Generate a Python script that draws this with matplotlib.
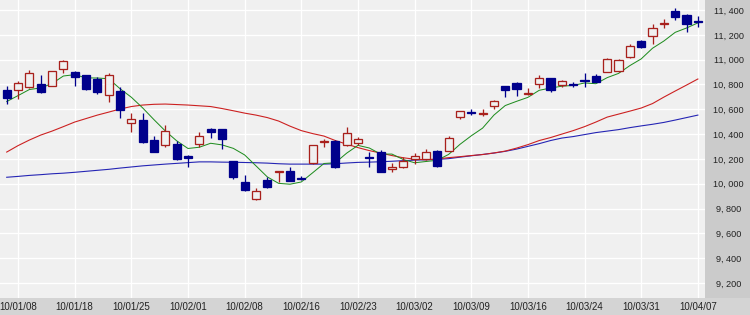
import matplotlib
matplotlib.use("Agg")
import matplotlib.pyplot as plt
from matplotlib.patches import Rectangle

dates = ['10/01/07','10/01/08','10/01/12','10/01/13','10/01/14','10/01/15','10/01/18','10/01/19',
         '10/01/20','10/01/21','10/01/22','10/01/25','10/01/26','10/01/27','10/01/28','10/01/29',
         '10/02/01','10/02/02','10/02/03','10/02/04','10/02/05','10/02/08','10/02/09','10/02/10',
         '10/02/12','10/02/15','10/02/16','10/02/17','10/02/18','10/02/19','10/02/22','10/02/23',
         '10/02/24','10/02/25','10/02/26','10/03/01','10/03/02','10/03/03','10/03/04','10/03/05',
         '10/03/08','10/03/09','10/03/10','10/03/11','10/03/12','10/03/15','10/03/16','10/03/17',
         '10/03/18','10/03/19','10/03/23','10/03/24','10/03/25','10/03/26','10/03/29','10/03/30',
         '10/03/31','10/04/01','10/04/02','10/04/05','10/04/06','10/04/07']

opens = [10755,10752,10777,10801,10787,10922,10902,10876,10844,10714,10747,10486,10513,10352,10316,10319,
         10223,10317,10440,10440,10182,10015,9876,10029,10092,10102,10050,10163,10335,10343,10316,10330,
         10212,10257,10115,10131,10196,10196,10263,10263,10539,10578,10560,10628,10787,10809,10720,10801,
         10849,10795,10805,10835,10868,10902,10908,11023,11150,11190,11285,11392,11360,11310]
highs = [10787,10827,10916,10876,10912,10995,10910,10878,10857,10894,10781,10567,10573,10384,10473,10343,
         10233,10414,10446,10444,10185,10069,9967,10056,10105,10131,10062,10315,10357,10352,10454,10378,
         10257,10271,10164,10217,10249,10277,10271,10386,10590,10600,10600,10672,10790,10819,10769,10876,
         10852,10832,10822,10894,10884,11010,11005,11123,11158,11287,11325,11414,11365,11354]
lows = [10642,10685,10773,10733,10785,10889,10789,10755,10723,10656,10531,10418,10330,10254,10297,10195,
        10131,10297,10366,10279,10037,9940,9868,9968,10015,10018,10027,10160,10293,10128,10303,10311,
        10137,10091,10091,10128,10158,10193,10137,10260,10519,10553,10548,10599,10701,10709,10715,10769,
        10736,10776,10776,10776,10818,10898,10903,11010,11091,11123,11252,11319,11225,11265]
closes = [10688,10809,10889,10741,10910,10991,10862,10763,10736,10876,10594,10518,10333,10257,10424,10198,
          10209,10384,10414,10360,10056,9948,9940,9970,10100,10021,10040,10311,10343,10131,10405,10357,
          10205,10098,10131,10185,10225,10257,10145,10370,10588,10570,10566,10669,10755,10761,10728,10854,
          10755,10830,10795,10828,10822,11002,10997,11110,11099,11252,11293,11346,11287,11302]

ma_short = [10662,10710,10759,10772,10807,10868,10879,10853,10852,10846,10766,10697,10611,10516,10425,10346,
            10284,10294,10326,10313,10285,10232,10144,10055,10003,9996,10014,10088,10163,10169,10246,10309,
            10288,10239,10239,10195,10169,10179,10189,10236,10317,10386,10448,10553,10630,10664,10696,10753,
            10771,10786,10792,10812,10806,10855,10889,10952,11006,11092,11150,11220,11255,11296]
ma_mid = [10255,10307,10352,10392,10424,10460,10497,10525,10553,10577,10602,10622,10634,10640,10642,10638,
          10634,10628,10622,10606,10588,10569,10553,10533,10505,10464,10428,10404,10384,10348,10319,10291,
          10267,10247,10227,10209,10198,10193,10200,10210,10218,10227,10235,10248,10263,10287,10315,10348,
          10372,10400,10428,10460,10497,10537,10561,10585,10610,10646,10698,10747,10795,10844]
ma_long = [10052,10059,10067,10073,10080,10085,10092,10100,10108,10116,10126,10135,10144,10151,10158,10164,
           10170,10176,10176,10174,10173,10171,10169,10166,10161,10158,10158,10158,10158,10161,10167,10172,
           10174,10177,10181,10186,10190,10193,10196,10202,10214,10225,10236,10247,10261,10279,10301,10323,
           10348,10368,10380,10396,10412,10424,10436,10452,10466,10479,10494,10513,10533,10553]

tick_labels = ['10/01/08','10/01/18','10/01/25','10/02/01','10/02/08','10/02/16','10/02/23',
               '10/03/02','10/03/09','10/03/16','10/03/24','10/03/31','10/04/07']
y_ticks = [9200, 9400, 9600, 9800, 10000, 10200, 10400, 10600, 10800, 11000, 11200, 11400]
y_tick_labels = ['9, 200','9, 400','9, 600','9, 800','10, 000','10, 200','10, 400','10, 600',
                 '10, 800','11, 000','11, 200','11, 400']

W, H = 750, 315
PX = 0.72  # points per pixel at dpi 100
BG = '#f0f0f0'
UP = '#a8201c'
DOWN = '#00008c'

fig = plt.figure(figsize=(W / 100, H / 100), dpi=100, facecolor='#d4d4d4')
fig.patches.append(Rectangle((705 / W, (H - 298) / H), 45 / W, 298 / H, transform=fig.transFigure,
                             facecolor='#cbcbcb', edgecolor='none', zorder=-5))
ax = fig.add_axes([0, (H - 298) / H, 705 / W, 298 / H])
ax.set_facecolor(BG)
for s in ax.spines.values():
    s.set_visible(False)

n = len(dates)
xs = list(range(n))
ax.set_xlim(-0.591, 61.63)
ax.set_ylim(9079, 11480.6)

tick_pos = [dates.index(t) for t in tick_labels]
ax.set_xticks(tick_pos)
ax.set_xticklabels(tick_labels, fontsize=7, family='Liberation Sans', color='#222222')
ax.set_yticks(y_ticks)
ax.set_yticklabels(y_tick_labels, fontsize=6.6, family='Liberation Sans', color='#222222')
ax.yaxis.tick_right()
ax.tick_params(axis='both', length=0)
ax.tick_params(axis='x', pad=3)
ax.tick_params(axis='y', pad=17)
for lab in ax.get_yticklabels():
    lab.set_horizontalalignment('center')
ax.grid(True, color='white', linewidth=1.3 * PX)
ax.set_axisbelow(True)

ax.plot(xs, ma_long, color='#2424b4', linewidth=1.1 * PX, zorder=2)
ax.plot(xs, ma_mid, color='#cc2020', linewidth=1.1 * PX, zorder=2)
ax.plot(xs, ma_short, color='#1e8c1e', linewidth=1.0 * PX, zorder=2)

width = 0.72
for i in xs:
    o, h, l, c = opens[i], highs[i], lows[i], closes[i]
    up = c >= o
    col = UP if up else DOWN
    ax.vlines(i, l, h, color=col, linewidth=1.3 * PX, zorder=3)
    bottom = min(o, c)
    height = max(abs(c - o), 1)
    ax.bar(i, height, width=width, bottom=bottom, facecolor=BG if up else DOWN,
           edgecolor=col, linewidth=1.3 * PX, zorder=4)

fig.savefig('out.png', dpi=100, facecolor=fig.get_facecolor())
